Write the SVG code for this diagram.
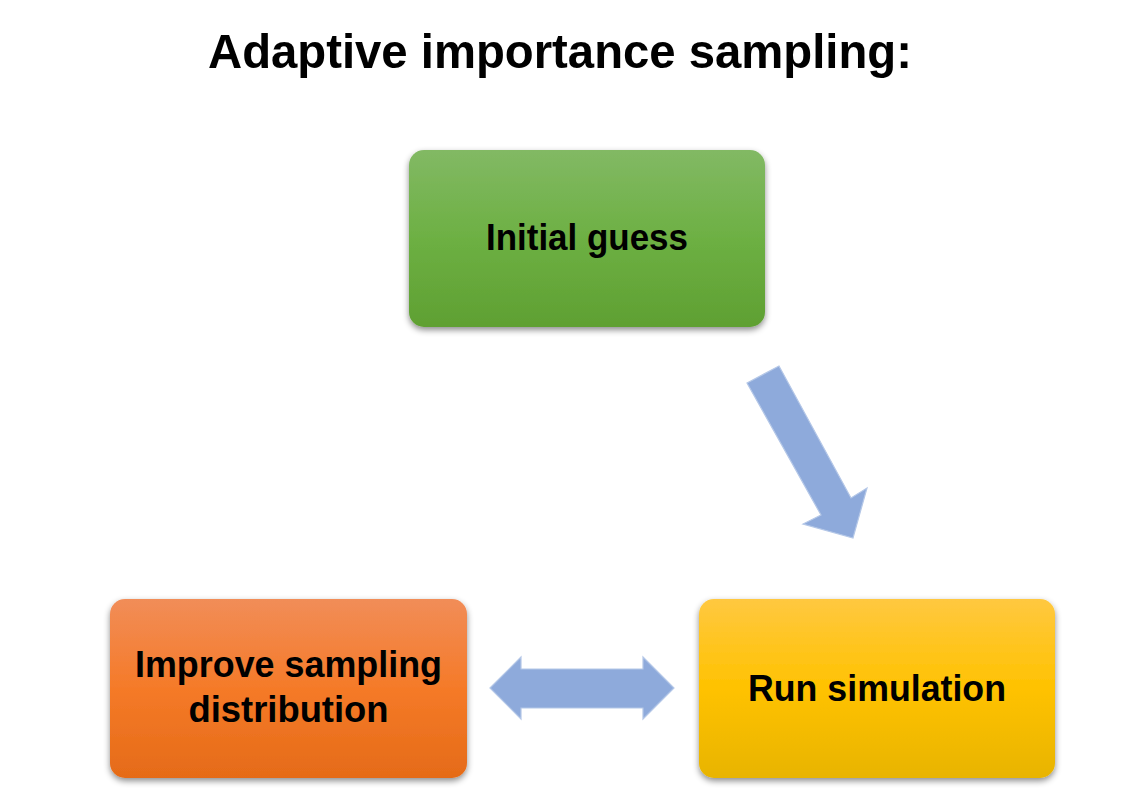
<svg xmlns="http://www.w3.org/2000/svg" width="1126" height="791" viewBox="0 0 1126 791">
<defs>
<linearGradient id="gGreen" x1="0" y1="0" x2="0" y2="1">
<stop offset="0" stop-color="#82b964"/>
<stop offset="0.5" stop-color="#6db043"/>
<stop offset="1" stop-color="#5fa032"/>
</linearGradient>
<linearGradient id="gOrange" x1="0" y1="0" x2="0" y2="1">
<stop offset="0" stop-color="#f18d58"/>
<stop offset="0.5" stop-color="#f57a28"/>
<stop offset="1" stop-color="#e56b18"/>
</linearGradient>
<linearGradient id="gYellow" x1="0" y1="0" x2="0" y2="1">
<stop offset="0" stop-color="#ffc840"/>
<stop offset="0.5" stop-color="#ffc200"/>
<stop offset="1" stop-color="#e8b400"/>
</linearGradient>
<filter id="shadow" x="-10%" y="-10%" width="120%" height="130%">
<feDropShadow dx="0" dy="3" stdDeviation="3" flood-color="#000" flood-opacity="0.45"/>
</filter>
</defs>
<style>
.box{filter:url(#shadow);}
.lbl{font-family:"Liberation Sans",Arial,sans-serif;font-weight:bold;font-size:36px;fill:#000;text-anchor:middle;}
.arrow{fill:#8eaadb;stroke:#b4c7e7;stroke-width:1.2;stroke-linejoin:miter;}
</style>
<rect width="1126" height="791" fill="#ffffff"/>
<text x="560" y="68" font-family="'Liberation Sans',Arial,sans-serif" font-weight="bold" font-size="49" text-anchor="middle" textLength="704" lengthAdjust="spacingAndGlyphs">Adaptive importance sampling:</text>
<g id="connectors">
<polygon class="arrow" points="747,383 779,366 851,498 867,488 853,538 803,524 821,515"/>
<polygon class="arrow" points="490,688 521,657 521,669 643,669 643,657 674,688 643,719 643,708 521,708 521,719"/>
</g>
<g id="node-initial">
<rect class="box" x="409" y="150" width="356" height="177" rx="15" fill="url(#gGreen)"/>
<text class="lbl" x="587" y="250" textLength="202" lengthAdjust="spacingAndGlyphs">Initial guess</text>
</g>
<g id="node-improve">
<rect class="box" x="110" y="599" width="357" height="179" rx="15" fill="url(#gOrange)"/>
<text class="lbl" x="288.5" y="677" textLength="307" lengthAdjust="spacingAndGlyphs">Improve sampling</text>
<text class="lbl" x="288.5" y="722" textLength="200" lengthAdjust="spacingAndGlyphs">distribution</text>
</g>
<g id="node-run">
<rect class="box" x="699" y="599" width="356" height="179" rx="15" fill="url(#gYellow)"/>
<text class="lbl" x="877" y="701" textLength="258" lengthAdjust="spacingAndGlyphs">Run simulation</text>
</g>
</svg>
